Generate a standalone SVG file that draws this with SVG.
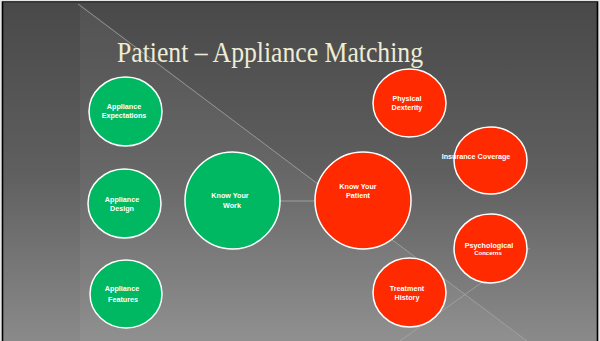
<svg xmlns="http://www.w3.org/2000/svg" width="600" height="341" viewBox="0 0 600 341">
  <defs>
    <linearGradient id="bg" x1="0" y1="0" x2="0" y2="1">
      <stop offset="0" stop-color="#494949"/>
      <stop offset="0.5" stop-color="#5f5f5f"/>
      <stop offset="1" stop-color="#8a8a8a"/>
    </linearGradient>
    <style>
      .g { fill: #00b862; stroke: #ffffff; stroke-width: 1.5; }
      .r { fill: #ff2a00; stroke: #ffffff; stroke-width: 1.5; }
      .lbl { font-family: "Liberation Sans", Arial, sans-serif; font-weight: bold; font-size: 7.2px; fill: #ffffff; text-anchor: middle; }
      .deco { stroke: #a8a8a8; stroke-width: 1; stroke-opacity: 0.75; fill: none; }
      .title { font-family: "Liberation Serif", "Times New Roman", serif; font-size: 29px; fill: #eeecd6; }
    </style>
  </defs>

  <rect x="0" y="0" width="600" height="341" fill="#e6e6e6"/>
  <rect x="3" y="3" width="594" height="338" fill="url(#bg)"/>
  <polygon points="80,4 527,341 80,341" fill="#ffffff" fill-opacity="0.05"/>
  <path d="M2.5,341 V2 H597.5 V341" fill="none" stroke="#000000" stroke-width="1.6"/>

  <g id="decorations">
    <line class="deco" x1="78" y1="4" x2="527" y2="341"/>
    <line class="deco" x1="400" y1="341" x2="530" y2="248"/>
  </g>

  <text id="title" class="title" x="117" y="62" textLength="306" lengthAdjust="spacingAndGlyphs">Patient – Appliance Matching</text>

  <g id="connectors">
    <line x1="232" y1="201" x2="363" y2="201" stroke="#a8a8a8" stroke-width="1" stroke-opacity="0.8"/>
  </g>

  <g id="appliance-expectations">
    <ellipse class="g" cx="125.5" cy="111.5" rx="36.5" ry="34.5"/>
    <text class="lbl" x="124" y="109">Appliance</text>
    <text class="lbl" x="124" y="118">Expectations</text>
  </g>
  <g id="appliance-design">
    <ellipse class="g" cx="124.5" cy="203.5" rx="36.5" ry="34.5"/>
    <text class="lbl" x="122" y="202">Appliance</text>
    <text class="lbl" x="122" y="211">Design</text>
  </g>
  <g id="appliance-features">
    <ellipse class="g" cx="126" cy="294" rx="36" ry="34"/>
    <text class="lbl" x="122" y="291">Appliance</text>
    <text class="lbl" x="123" y="302">Features</text>
  </g>
  <g id="know-your-work">
    <ellipse class="g" cx="232.5" cy="200.5" rx="47.5" ry="48.5"/>
    <text class="lbl" x="230" y="198">Know Your</text>
    <text class="lbl" x="232" y="208">Work</text>
  </g>

  <g id="physical-dexterity">
    <ellipse class="r" cx="409.5" cy="103" rx="36.5" ry="34"/>
    <text class="lbl" x="407" y="101">Physical</text>
    <text class="lbl" x="407" y="109.5">Dexterity</text>
  </g>
  <g id="insurance-coverage">
    <ellipse class="r" cx="490.5" cy="160.5" rx="36.5" ry="33.5"/>
    <text class="lbl" x="476" y="159">Insurance Coverage</text>
  </g>
  <g id="know-your-patient">
    <ellipse class="r" cx="363" cy="200.5" rx="48" ry="48.5"/>
    <text class="lbl" x="358" y="189">Know Your</text>
    <text class="lbl" x="358" y="198">Patient</text>
  </g>
  <g id="psychological-concerns">
    <ellipse class="r" cx="490.5" cy="248.5" rx="36.5" ry="34.5"/>
    <text class="lbl" x="489" y="248">Psychological</text>
    <text class="lbl" x="488" y="255" style="font-size:6px">Concerns</text>
  </g>
  <g id="treatment-history">
    <ellipse class="r" cx="409.5" cy="292.5" rx="36.5" ry="34.5"/>
    <text class="lbl" x="407" y="291">Treatment</text>
    <text class="lbl" x="407" y="299.5">History</text>
  </g>
</svg>
